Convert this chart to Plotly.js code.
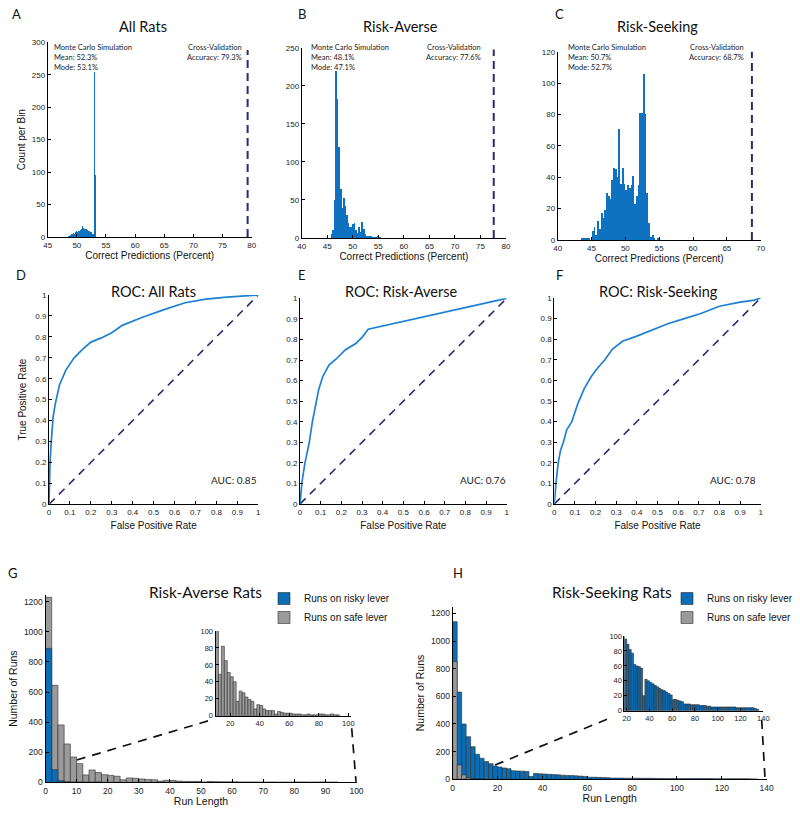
<!DOCTYPE html>
<html><head><meta charset="utf-8">
<script src="https://cdn.plot.ly/plotly-3.0.1.min.js"></script>
<style>html,body{margin:0;padding:0;background:#fff}#chart{width:800px;height:817px}</style>
</head><body><div id="chart"></div>
<script>
// ---------- DATA ----------
// Panel A-C: Monte Carlo histograms (counts per bin)
const histA_start = 48.4, histA_width = 0.1;
const histA_counts = [1,1,2,2,3,3,4,4,5,5,6,5,7,8,6,9,14,7,10,12,9,16,11,13,10,17,12,14,11,13,12,10,12,9,11,10,8,9,7,8,6,7,5,6,4,3,255,190,95,0,0,0,0,0,0,0,0,0,0,0,0,0,0,0,0,1];
const histB_start = 45.7, histB_width = 0.3;
const histB_counts = [5,10,50,220,183,120,65,40,52,42,30,20,15,14,18,20,10,7,14,8,21,12,5,3,3,2,2,1,1,1,2,1,1];
const histC_start = 43.5, histC_width = 0.26;
const histC_counts = [1,1,1,1,1,0,6,8,3,12,7,17,14,19,30,28,26,38,46,45,40,71,36,46,36,32,35,33,35,41,23,28,35,81,81,106,80,30,11,2,3,1,0,1];
const cvAccuracy = [79.3, 77.6, 68.7];
const mcMean = [52.3, 48.1, 50.7];
const mcMode = [53.1, 47.1, 52.7];

// Panels D-F: ROC curves
const rocD_fpr = [0,0.002,0.005,0.01,0.016,0.02,0.03,0.05,0.08,0.12,0.16,0.2,0.25,0.3,0.35,0.45,0.55,0.65,0.75,0.85,1];
const rocD_tpr = [0,0.1,0.2,0.29,0.387,0.42,0.48,0.57,0.64,0.70,0.74,0.775,0.795,0.82,0.855,0.895,0.93,0.963,0.98,0.99,1];
const rocE_fpr = [0,0.005,0.01,0.024,0.045,0.06,0.075,0.09,0.11,0.14,0.175,0.22,0.27,0.3,0.33,1];
const rocE_tpr = [0,0.07,0.11,0.2,0.3,0.4,0.48,0.555,0.62,0.675,0.705,0.75,0.78,0.81,0.85,1];
const rocF_fpr = [0,0.003,0.008,0.019,0.03,0.044,0.06,0.085,0.1,0.115,0.145,0.18,0.21,0.245,0.28,0.33,0.4,0.48,0.55,0.63,0.71,0.8,0.9,0.97,1];
const rocF_tpr = [0,0.05,0.1,0.2,0.26,0.3,0.36,0.4,0.45,0.49,0.56,0.62,0.66,0.7,0.75,0.79,0.815,0.845,0.875,0.9,0.925,0.96,0.98,0.99,1];
const aucValues = [0.85, 0.76, 0.78];

// Panels G-H: run-length histograms (bins of width 2 starting at 0)
const runBinWidth = 2;
const gSafeRuns  = [1230,645,381,255,168,124,49,82,65,51,46,40,17,29,27,22,19,17,8,13,12,8,6,6,6,2,5,4,3,3,3,2,2,2,1,1,2,1,1,1,2,2,1,1,2,1,1];
const gRiskyRuns = [890,84,11,3,1,1,0,0,1];
const hRiskyRuns = [1140,631,400,308,236,181,152,128,113,96,89,82,77,62,60,59,57,20,42,40,38,36,34,32,30,28,27,25,23,21,15,15,14,13,12,9,9,9,8,8,8,8,7,7,7,6,6,5,5,5,5,5,5,5,5,5,5,5,4,4,4,4,4,4,4,4,3,2];
const hSafeRuns  = [851,104,31,12,3,1,1];

// ---------- HELPERS ----------
const W = 800, H = 817;
const dx = (a, b) => [a / W, b / W];
const dy = (top, bot) => [1 - bot / H, 1 - top / H];
const px = x => x / W, py = y => 1 - y / H;
const centers = (start, width, n) => Array.from({length: n}, (_, i) => start + width * (i + 0.5));

const TICKF = 'Liberation Sans, Arial, sans-serif';
const MYR = 'Lato, Open Sans, sans-serif';
const BLUE = '#0e72c0', ROCBLUE = '#1f80d2', NAVY = '#2b2a70';
const RUNBLUE = '#0b6db6', GRAY = '#9a9a9a', EDGE = '#2e2e2e';

function ax(o) {
  return Object.assign({
    showline: true, linecolor: '#000', linewidth: 1, mirror: false,
    ticks: 'inside', ticklen: 3, tickwidth: 1, tickcolor: '#000',
    showgrid: false, zeroline: false, fixedrange: true,
    tickfont: {family: TICKF, size: 8, color: '#222'}
  }, o);
}
const axTitle = (t, s, size) => ({text: t, font: {family: TICKF, size: size || 10, color: '#111'}, standoff: s});

// ---------- TRACES ----------
const traces = [];
const hists = [
  [histA_start, histA_width, histA_counts, 'x', 'y'],
  [histB_start, histB_width, histB_counts, 'x2', 'y2'],
  [histC_start, histC_width, histC_counts, 'x3', 'y3']
];
hists.forEach(([s, w, c, xa, ya]) => traces.push({
  type: 'bar', x: centers(s, w, c.length), y: c, width: w,
  marker: {color: BLUE, line: {width: 0}}, xaxis: xa, yaxis: ya, showlegend: false, hoverinfo: 'x+y'
}));

const rocs = [[rocD_fpr, rocD_tpr, 'x4', 'y4'], [rocE_fpr, rocE_tpr, 'x5', 'y5'], [rocF_fpr, rocF_tpr, 'x6', 'y6']];
rocs.forEach(([f, t, xa, ya]) => {
  traces.push({type: 'scatter', mode: 'lines', x: [0, 1], y: [0, 1], line: {color: NAVY, width: 1.6, dash: '8px,6px'},
    xaxis: xa, yaxis: ya, showlegend: false, hoverinfo: 'skip'});
  traces.push({type: 'scatter', mode: 'lines', x: f, y: t, line: {color: ROCBLUE, width: 1.7},
    xaxis: xa, yaxis: ya, showlegend: false});
});

const edge = {color: EDGE, width: 0.6};
// G main: safe (gray) behind, risky (blue) in front
traces.push({type: 'bar', name: 'Runs on safe lever', x: centers(0, runBinWidth, gSafeRuns.length), y: gSafeRuns, width: runBinWidth,
  marker: {color: GRAY, line: edge}, xaxis: 'x7', yaxis: 'y7', legend: 'legend', legendrank: 2});
traces.push({type: 'bar', name: 'Runs on risky lever', x: centers(0, runBinWidth, gRiskyRuns.length), y: gRiskyRuns, width: runBinWidth,
  marker: {color: RUNBLUE, line: edge}, xaxis: 'x7', yaxis: 'y7', legend: 'legend', legendrank: 1});
// G inset
traces.push({type: 'bar', x: centers(0, runBinWidth, gSafeRuns.length), y: gSafeRuns, width: runBinWidth,
  marker: {color: GRAY, line: edge}, xaxis: 'x8', yaxis: 'y8', showlegend: false});
// H main: risky (blue) behind, safe (gray) in front
traces.push({type: 'bar', name: 'Runs on risky lever', x: centers(0, runBinWidth, hRiskyRuns.length), y: hRiskyRuns, width: runBinWidth,
  marker: {color: RUNBLUE, line: edge}, xaxis: 'x9', yaxis: 'y9', legend: 'legend2', legendrank: 1});
traces.push({type: 'bar', name: 'Runs on safe lever', x: centers(0, runBinWidth, hSafeRuns.length), y: hSafeRuns, width: runBinWidth,
  marker: {color: GRAY, line: edge}, xaxis: 'x9', yaxis: 'y9', legend: 'legend2', legendrank: 2});
// H inset
traces.push({type: 'bar', x: centers(0, runBinWidth, hRiskyRuns.length), y: hRiskyRuns, width: runBinWidth,
  marker: {color: RUNBLUE, line: edge}, xaxis: 'x10', yaxis: 'y10', showlegend: false});

// ---------- LAYOUT ----------
const tick8 = {family: TICKF, size: 8, color: '#222'};
const tick85 = {family: TICKF, size: 8.5, color: '#222'};
const tick75 = {family: TICKF, size: 7.5, color: '#222'};
const rocTicks = {tickvals: [0,0.1,0.2,0.3,0.4,0.5,0.6,0.7,0.8,0.9,1], ticktext: ['0','0.1','0.2','0.3','0.4','0.5','0.6','0.7','0.8','0.9','1']};

const layout = {
  width: W, height: H, margin: {l: 0, r: 0, t: 0, b: 0},
  paper_bgcolor: '#fff', plot_bgcolor: 'rgba(0,0,0,0)',
  barmode: 'overlay', bargap: 0, hovermode: false,
  xaxis:  ax({domain: dx(47.7, 251.7), range: [45, 80], tick0: 45, dtick: 5, anchor: 'y', tickfont: tick8, title: axTitle('Correct Predictions (Percent)', 2)}),
  yaxis:  ax({domain: dy(42.3, 237), range: [0, 300], dtick: 50, anchor: 'x', tickfont: tick8, title: axTitle('Count per Bin', 4)}),
  xaxis2: ax({domain: dx(301.7, 506), range: [40, 80], dtick: 5, anchor: 'y2', tickfont: tick8, title: axTitle('Correct Predictions (Percent)', 2)}),
  yaxis2: ax({domain: dy(47.7, 238), range: [0, 250], dtick: 50, anchor: 'x2', tickfont: tick8}),
  xaxis3: ax({domain: dx(557.7, 760.7), range: [40, 70], dtick: 5, anchor: 'y3', tickfont: tick8, title: axTitle('Correct Predictions (Percent)', 2)}),
  yaxis3: ax({domain: dy(51.7, 240), range: [0, 120], dtick: 20, anchor: 'x3', tickfont: tick8}),
  xaxis4: ax(Object.assign({domain: dx(49, 258.3), range: [0, 1], anchor: 'y4', tickfont: tick8, title: axTitle('False Positive Rate', 6)}, rocTicks)),
  yaxis4: ax(Object.assign({domain: dy(295, 504.3), range: [0, 1], anchor: 'x4', tickfont: tick8, title: axTitle('True Positive Rate', 6)}, rocTicks)),
  xaxis5: ax(Object.assign({domain: dx(300, 506.7), range: [0, 1], anchor: 'y5', tickfont: tick8, title: axTitle('False Positive Rate', 6)}, rocTicks)),
  yaxis5: ax(Object.assign({domain: dy(298.3, 504), range: [0, 1], anchor: 'x5', tickfont: tick8}, rocTicks)),
  xaxis6: ax(Object.assign({domain: dx(554.3, 760.7), range: [0, 1], anchor: 'y6', tickfont: tick8, title: axTitle('False Positive Rate', 6)}, rocTicks)),
  yaxis6: ax(Object.assign({domain: dy(298, 504), range: [0, 1], anchor: 'x6', tickfont: tick8}, rocTicks)),
  xaxis7: ax({domain: dx(45.5, 356.5), range: [0, 100], dtick: 10, anchor: 'y7', tickfont: tick85, title: axTitle('Run Length', 3, 10.5)}),
  yaxis7: ax({domain: dy(595, 782.3), range: [0, 1245], tickvals: [0,200,400,600,800,1000,1200], anchor: 'x7', tickfont: tick85, title: axTitle('Number of Runs', 4, 10.5)}),
  xaxis8: ax({domain: dx(215.5, 351.3), range: [10, 102], tickvals: [20,40,60,80,100], anchor: 'y8', tickfont: tick75}),
  yaxis8: ax({domain: dy(631, 715.7), range: [0, 100], dtick: 20, anchor: 'x8', tickfont: tick75}),
  xaxis9: ax({domain: dx(452.7, 766.7), range: [0, 140], dtick: 20, anchor: 'y9', tickfont: tick85, title: axTitle('Run Length', 3, 10.5)}),
  yaxis9: ax({domain: dy(606.7, 779.3), range: [0, 1248], tickvals: [0,200,400,600,800,1000,1200], anchor: 'x9', tickfont: tick85, title: axTitle('Number of Runs', 4, 10.5)}),
  xaxis10: ax({domain: dx(624.4, 763.3), range: [18, 140], tickvals: [20,40,60,80,100,120,140], anchor: 'y10', tickfont: tick75}),
  yaxis10: ax({domain: dy(636, 710.7), range: [0, 100], dtick: 20, anchor: 'x10', tickfont: tick75}),
  legend: {x: px(264), y: py(584), xanchor: 'left', yanchor: 'top', bgcolor: 'rgba(0,0,0,0)',
    font: {family: TICKF, size: 10, color: '#111'}, itemwidth: 30, tracegroupgap: 0},
  legend2: {x: px(667), y: py(584), xanchor: 'left', yanchor: 'top', bgcolor: 'rgba(0,0,0,0)',
    font: {family: TICKF, size: 10, color: '#111'}, itemwidth: 30, tracegroupgap: 0},
  shapes: [],
  annotations: []
};

// cross-validation accuracy lines
[['x', 'y', 0.96], ['x2', 'y2', 0.99], ['x3', 'y3', 1.0]].forEach(([xa, ya, top], i) => {
  layout.shapes.push({type: 'line', xref: xa, yref: ya + ' domain', x0: cvAccuracy[i], x1: cvAccuracy[i], y0: 0, y1: top,
    line: {color: NAVY, width: 2, dash: '8px,5px'}});
});
// zoom connectors (G, H)
const conn = {color: '#111', width: 1.7, dash: '9px,7px'};
layout.shapes.push({type: 'line', xref: 'paper', yref: 'paper', x0: px(76.7), y0: py(760), x1: px(211), y1: py(720), line: conn});
layout.shapes.push({type: 'line', xref: 'paper', yref: 'paper', x0: px(351.7), y0: py(728.3), x1: px(356), y1: py(781.7), line: conn});
layout.shapes.push({type: 'line', xref: 'paper', yref: 'paper', x0: px(495), y0: py(765), x1: px(613.3), y1: py(716.7), line: conn});
layout.shapes.push({type: 'line', xref: 'paper', yref: 'paper', x0: px(761.7), y0: py(720), x1: px(765), y1: py(778.3), line: conn});

const A = (text, x, y, o) => layout.annotations.push(Object.assign({text, x: px(x), y: py(y), xref: 'paper', yref: 'paper',
  showarrow: false, xanchor: 'center', yanchor: 'middle', font: {family: MYR, size: 14.5, color: '#111'}}, o || {}));

// panel letters
const letterF = {font: {family: MYR, size: 13, color: '#111'}};
A('A', 16.5, 14, letterF); A('B', 301.7, 14, letterF); A('C', 559, 14, letterF);
A('D', 20.7, 275, letterF); A('E', 301.7, 275, letterF); A('F', 559, 275, letterF);
A('G', 13.3, 573, letterF); A('H', 458.3, 573, letterF);
// titles
A('All Rats', 142.7, 26); A('Risk-Averse', 400, 26); A('Risk-Seeking', 657.3, 26);
A('ROC: All Rats', 153, 291); A('ROC: Risk-Averse', 401.5, 291); A('ROC: Risk-Seeking', 658, 291);
A('Risk-Averse Rats', 205.7, 592, {font: {family: MYR, size: 15.5, color: '#111'}});
A('Risk-Seeking Rats', 612, 592, {font: {family: MYR, size: 15.5, color: '#111'}});
// Monte Carlo / cross-validation text
const small = {family: MYR, size: 7.5, color: '#222'};
[[51.7, 243.5], [309.3, 482.7], [565.7, 746]].forEach(([l, r], i) => {
  A('Monte Carlo Simulation<br>Mean: ' + mcMean[i].toFixed(1) + '%<br>Mode: ' + mcMode[i].toFixed(1) + '%', l, 41,
    {xanchor: 'left', yanchor: 'top', align: 'left', font: small});
  A('Cross-Validation<br>Accuracy: ' + cvAccuracy[i].toFixed(1) + '%', r, 41,
    {xanchor: 'right', yanchor: 'top', align: 'right', font: small});
});
// AUC labels
[[259, 480], [508.3, 480], [758.3, 480]].forEach(([x, y], i) =>
  A('AUC: ' + aucValues[i].toFixed(2), x, y, {xanchor: 'right', font: {family: MYR, size: 10, color: '#222'}}));

Plotly.newPlot('chart', traces, layout, {staticPlot: true, displayModeBar: false});
</script></body></html>
